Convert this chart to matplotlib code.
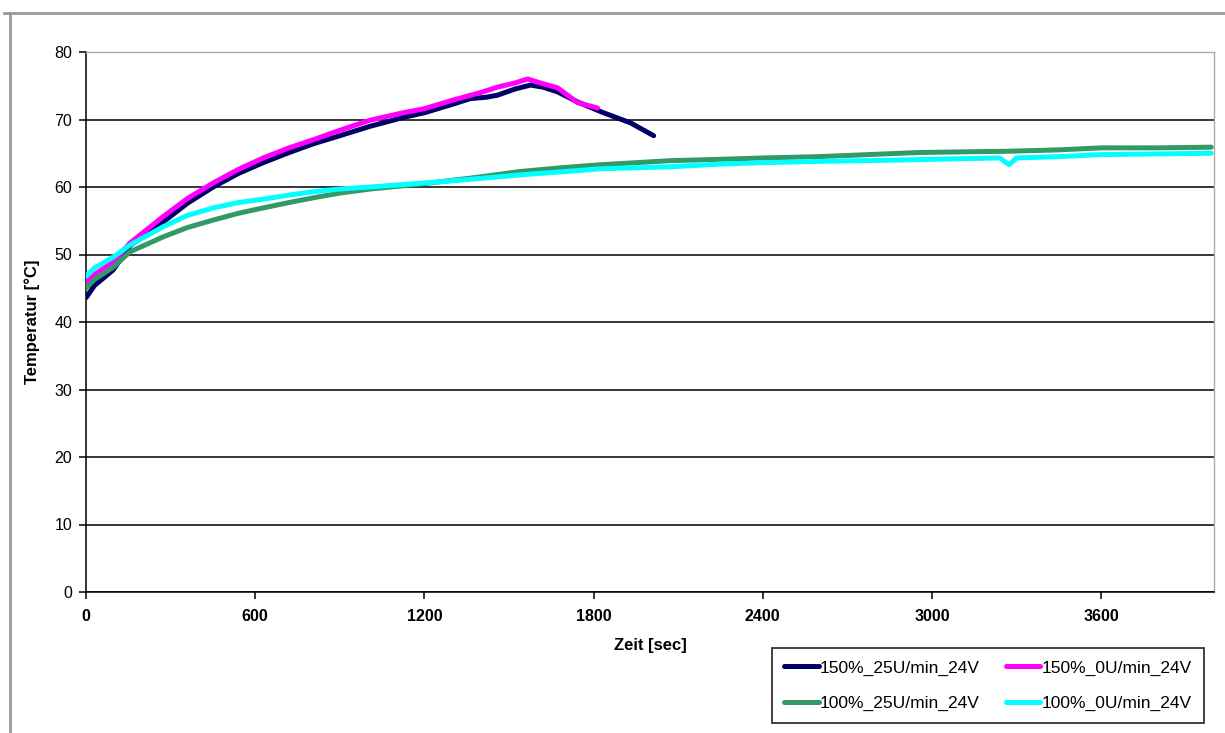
import matplotlib
matplotlib.use('Agg')
import matplotlib.pyplot as plt
from matplotlib.lines import Line2D

plt.rcParams['font.family'] = ['Liberation Sans', 'DejaVu Sans']

t_150_25 = [0, 30, 96, 156, 273, 360, 451, 540, 628, 720, 806, 900, 1008, 1125, 1200,
            1303, 1363, 1420, 1459, 1520, 1576, 1620, 1672, 1743, 1835, 1931, 2013]
y_150_25 = [43.6, 45.4, 47.7, 51.3, 54.8, 57.6, 60.0, 62.0, 63.6, 65.1, 66.4, 67.6, 69.0, 70.3, 71.0,
            72.3, 73.1, 73.3, 73.6, 74.5, 75.1, 74.8, 74.1, 72.6, 71.0, 69.5, 67.6]

t_150_0 = [0, 30, 96, 156, 273, 360, 451, 540, 628, 720, 806, 900, 1008, 1125, 1200,
           1303, 1400, 1459, 1520, 1566, 1620, 1672, 1743, 1814]
y_150_0 = [45.8, 47.0, 48.9, 51.7, 55.6, 58.3, 60.6, 62.6, 64.3, 65.8, 67.0, 68.4, 69.9, 71.0, 71.6,
           72.9, 74.0, 74.8, 75.4, 76.0, 75.3, 74.7, 72.5, 71.7]

t_100_25 = [0, 30, 96, 156, 273, 360, 451, 540, 628, 720, 806, 900, 1008, 1200, 1380, 1540,
            1700, 1825, 2073, 2250, 2400, 2600, 2890, 2950, 3100, 3273, 3450, 3600, 3800, 3990]
y_100_25 = [45.0, 46.3, 48.1, 50.4, 52.6, 54.0, 55.1, 56.1, 56.9, 57.7, 58.4, 59.1, 59.7, 60.5, 61.4, 62.3,
            62.9, 63.3, 63.9, 64.1, 64.3, 64.5, 65.0, 65.1, 65.2, 65.3, 65.5, 65.8, 65.8, 65.9]

t_100_0 = [0, 30, 96, 156, 273, 360, 451, 540, 628, 720, 806, 900, 1008, 1200, 1380, 1540,
           1700, 1825, 2073, 2250, 2400, 2600, 2890, 3100, 3240, 3273, 3300, 3450, 3600, 3800, 3990]
y_100_0 = [46.8, 48.0, 49.6, 51.4, 54.1, 55.8, 56.9, 57.7, 58.2, 58.8, 59.3, 59.7, 60.0, 60.6, 61.2, 61.8,
           62.3, 62.7, 63.0, 63.4, 63.6, 63.8, 64.0, 64.2, 64.3, 63.3, 64.3, 64.5, 64.8, 64.9, 65.0]

labels = ['150%_25U/min_24V', '150%_0U/min_24V', '100%_25U/min_24V', '100%_0U/min_24V']
colors = ['#000066', '#ff00ff', '#339966', '#00ffff']

fig = plt.figure(figsize=(12.25, 7.33), dpi=100)
ax = fig.add_axes([86 / 1225, 1 - 592 / 733, 1128 / 1225, 540 / 733])

series = [(t_150_25, y_150_25), (t_150_0, y_150_0), (t_100_25, y_100_25), (t_100_0, y_100_0)]
lines = []
for (t, y), c, lab in zip(series, colors, labels):
    ln, = ax.plot(t, y, color=c, lw=3.6, label=lab, solid_capstyle='round', zorder=3)
    lines.append(ln)

ax.set_xlim(0, 4000)
ax.set_ylim(0, 80)
ax.set_xticks(range(0, 4000, 600))
ax.set_yticks(range(0, 81, 10))

ax.yaxis.grid(True, color='black', lw=1.1)
ax.get_ygridlines()[-1].set_visible(False)
ax.set_axisbelow(True)

for s in ['left', 'bottom']:
    ax.spines[s].set_color('black')
    ax.spines[s].set_linewidth(1.1)
for s in ['top', 'right']:
    ax.spines[s].set_color('#aaaaaa')
    ax.spines[s].set_linewidth(1.0)

ax.tick_params(direction='out', length=5, width=1.1, colors='black')
ax.tick_params(axis='y', labelsize=11.5, pad=5)
ax.tick_params(axis='x', labelsize=11.5, pad=7)
for lb in ax.get_xticklabels():
    lb.set_fontweight('bold')

ax.set_xlabel('Zeit [sec]', fontsize=12, fontweight='bold', labelpad=10)
ax.set_ylabel('Temperatur [°C]', fontsize=12, fontweight='bold', labelpad=10)

# Legende: Zeile 1 = 150 %, Zeile 2 = 100 %
order = [0, 2, 1, 3]
leg = ax.legend([lines[i] for i in order], [labels[i] for i in order],
                ncol=2, loc='upper left', bbox_to_anchor=(0.608, -0.104),
                fontsize=12.5, frameon=True, fancybox=False,
                handlelength=2.0, handletextpad=0.05, columnspacing=1.5,
                borderpad=0.7, labelspacing=1.15, borderaxespad=0)
leg.get_frame().set_edgecolor('black')
leg.get_frame().set_linewidth(1.3)

# grauer Rahmen des Diagrammobjekts
fig.add_artist(Line2D([4 / 1225, 1], [1 - 13 / 733, 1 - 13 / 733], color='#999999', lw=2))
fig.add_artist(Line2D([10 / 1225, 10 / 1225], [0, 1 - 13 / 733], color='#999999', lw=2))

fig.savefig('out.png', dpi=100)
